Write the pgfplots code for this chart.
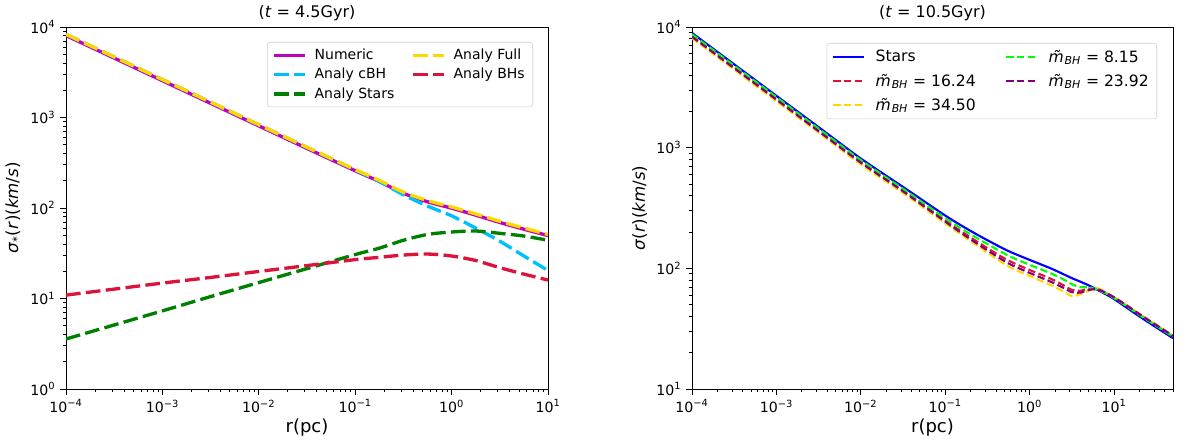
\documentclass[border=0pt]{standalone}
\usepackage{fontspec}
\setmainfont{DejaVu Sans}
\usepackage{pgfplots}
\pgfplotsset{compat=1.18}
\definecolor{mplm}{HTML}{BF00BF}
\definecolor{dsb}{HTML}{00BFFF}
\definecolor{mplgreen}{HTML}{008000}
\definecolor{gold}{HTML}{FFD700}
\definecolor{crimson}{HTML}{DC143C}
\definecolor{lime}{HTML}{00FF00}
\definecolor{mplpurple}{HTML}{800080}
\definecolor{mplblue}{HTML}{0000FF}
\tikzset{
  lft/.style={line width=2.5pt, dash pattern=on 11pt off 4pt},
  rgt/.style={line width=1.6pt, dash pattern=on 5.5pt off 2.6pt},
}
\pgfplotsset{
  log number format basis/.code 2 args={10\textsuperscript{\pgfmathparse{int(#2)}\ifnum\pgfmathresult<0 −\pgfmathparse{int(-(#2))}\pgfmathresult\else\pgfmathresult\fi}},
  legend image code/.code={\draw[#1] (0pt,0pt) -- (23pt,0pt);},
  every axis/.append style={
    scale only axis,
    axis line style={line width=0.6pt},
    tick align=outside, tick pos=left,
    major tick length=4.5pt, minor tick length=2.5pt,
    every tick/.style={black, line width=0.6pt},
    ticklabel style={font=\fontsize{10.6}{12}\selectfont},
    xlabel style={font=\fontsize{13.5}{15}\selectfont, yshift=2pt},
    ylabel style={font=\fontsize{12.5}{14}\selectfont},
    title style={font=\fontsize{12}{14}\selectfont, yshift=-5pt},
    legend cell align=left,
  },
}
\begin{document}
\begin{tikzpicture}
\path[use as bounding box] (-49.5pt,-38.25pt) rectangle (840.75pt,291.75pt);
% ---------------- left panel ----------------
\begin{axis}[xmode=log, ymode=log,
  at={(0pt,0pt)}, anchor=south west,
  width=361.5pt, height=271.5pt,
  xmin=1e-4, xmax=10, ymin=1, ymax=1e4,
  title={(\textit{t} = 4.5Gyr)},
  xlabel={r(pc)},
  ylabel={\textit{σ}\textsubscript{*}(\textit{r})(\textit{km}/\textit{s})},
  legend columns=2,
  legend style={at={(1,1)}, anchor=north east, xshift=-11.25pt, yshift=-11.25pt,
    font=\fontsize{10.5}{12}\selectfont, draw=black!20, rounded corners=2pt,
    row sep=1pt, inner xsep=4pt, inner ysep=3pt,
    /tikz/every odd column/.append style={column sep=4pt},
    /tikz/every even column/.append style={column sep=11pt}},
]
\addplot[mplm, line width=2.5pt, smooth, forget plot] coordinates {
(1e-4,8050)(3.162e-4,4537)(1e-3,2551)(3.162e-3,1435)(1e-2,807.5)(3.162e-2,455)
(0.1,258)(0.1778,196)(0.3162,145.3)(0.5623,117.2)(1,99.6)(1.778,83.4)(3.162,69.2)(5.623,58.3)(10,49.6)};
\addplot[dsb, lft, smooth, forget plot] coordinates {
(1e-4,8300)(3.162e-4,4677)(1e-3,2630)(3.162e-3,1479)(1e-2,832)(3.162e-2,468)
(0.1,263)(0.1778,197)(0.3162,140)(0.5623,105)(1,82)(1.778,60)(3.162,43)(5.623,29.5)(10,20.4)};
\addplot[mplgreen, lft, smooth, forget plot] coordinates {
(1e-4,3.57)(3.162e-4,5.1)(1e-3,7.3)(3.162e-3,10.5)(1e-2,15.0)(3.162e-2,21.4)
(0.1,30.6)(0.1778,36)(0.3162,44)(0.5623,51)(1,54.3)(1.778,55.7)(3.162,52.5)(5.623,49)(10,44)};
\addplot[gold, lft, smooth, forget plot] coordinates {
(1e-4,8300)(3.162e-4,4677)(1e-3,2630)(3.162e-3,1479)(1e-2,832.5)(3.162e-2,469.1)
(0.1,266.1)(0.1778,202.3)(0.3162,149.8)(0.5623,120.8)(1,102.7)(1.778,86.0)(3.162,71.3)(5.623,60.1)(10,51.1)};
\addplot[crimson, lft, smooth, forget plot] coordinates {
(1e-4,10.9)(3.162e-4,12.7)(1e-3,14.8)(3.162e-3,17.1)(1e-2,19.9)(3.162e-2,23.1)
(0.1,26.9)(0.1778,28.5)(0.3162,30.2)(0.5623,31)(1,29.5)(1.778,26.3)(3.162,21.9)(5.623,18.6)(10,16)};
\addlegendimage{mplm, line width=2.5pt}\addlegendentry{Numeric}
\addlegendimage{gold, lft}\addlegendentry{Analy Full}
\addlegendimage{dsb, lft}\addlegendentry{Analy cBH}
\addlegendimage{crimson, lft}\addlegendentry{Analy BHs}
\addlegendimage{mplgreen, lft}\addlegendentry{Analy Stars}
\end{axis}
% ---------------- right panel ----------------
\begin{axis}[xmode=log, ymode=log,
  at={(469.5pt,0pt)}, anchor=south west,
  width=360.75pt, height=271.5pt,
  xmin=1e-4, xmax=50, ymin=10, ymax=1e4,
  title={(\textit{t} = 10.5Gyr)},
  xlabel={r(pc)},
  ylabel={\textit{σ}(\textit{r})(\textit{km}/\textit{s})},
  legend columns=2,
  legend style={at={(1,1)}, anchor=north east, xshift=-12pt, yshift=-12pt,
    font=\fontsize{11.7}{13}\selectfont, draw=black!20, rounded corners=2pt,
    row sep=3.5pt, inner xsep=4pt, inner ysep=3pt,
    /tikz/every odd column/.append style={column sep=6pt},
    /tikz/every even column/.append style={column sep=20pt}},
]
\addplot[mplblue, line width=1.6pt, smooth, forget plot] coordinates {
(1e-4,8920)(3.162e-4,4900)(1e-3,2690)(3.162e-3,1480)(1e-2,813)(3.162e-2,473)
(0.1,274)(0.1778,214)(0.3162,171)(0.5623,139)(1,117.5)(1.778,100)(2.512,89.5)(3.162,83)(3.981,77.6)(5.012,72.3)(6.310,66.5)(7.943,61.1)(10,55.7)(14.13,47.2)(19.95,40)(31.62,32.4)(50,26.4)};
\addplot[crimson, rgt, smooth, forget plot] coordinates {
(1e-4,8474)(3.162e-4,4655)(1e-3,2542)(3.162e-3,1399)(1e-2,768)(3.162e-2,445)
(0.1,249)(0.1778,190)(0.3162,147)(0.5623,116)(1,96.9)(1.778,82)(2.512,72.5)(3.162,66.4)(3.981,65.2)(5.012,68)(6.310,66.5)(7.943,62.6)(10,57.4)(14.13,49.1)(19.95,41.6)(31.62,33.7)(50,27.5)};
\addplot[gold, rgt, smooth, forget plot] coordinates {
(1e-4,8073)(3.162e-4,4435)(1e-3,2421)(3.162e-3,1332)(1e-2,728)(3.162e-2,421)
(0.1,236)(0.1778,178)(0.3162,135)(0.5623,103.6)(1,86.4)(1.778,72.7)(2.512,64.4)(3.162,59)(3.981,61)(5.012,65.1)(6.310,68.5)(7.943,63.5)(10,57.9)(14.13,49.6)(19.95,42)(31.62,34)(50,27.7)};
\addplot[lime, rgt, smooth, forget plot] coordinates {
(1e-4,8697)(3.162e-4,4778)(1e-3,2623)(3.162e-3,1436)(1e-2,789)(3.162e-2,456)
(0.1,260)(0.1778,201)(0.3162,159)(0.5623,127.2)(1,106.9)(1.778,91)(2.512,81)(3.162,73.9)(3.981,69.8)(5.012,69.8)(6.310,66.5)(7.943,62.3)(10,56.8)(14.13,48.6)(19.95,41.2)(31.62,33.4)(50,27.2)};
\addplot[mplpurple, rgt, smooth, forget plot] coordinates {
(1e-4,8296)(3.162e-4,4557)(1e-3,2502)(3.162e-3,1369)(1e-2,752)(3.162e-2,435)
(0.1,244)(0.1778,184)(0.3162,141)(0.5623,110)(1,91.7)(1.778,77.5)(2.512,68.9)(3.162,63.5)(3.981,62.9)(5.012,66.2)(6.310,67.2)(7.943,62.9)(10,57.6)(14.13,49.3)(19.95,41.8)(31.62,33.9)(50,27.6)};
\addlegendimage{mplblue, line width=1.6pt}\addlegendentry{Stars}
\addlegendimage{lime, rgt}\addlegendentry{\textit{m̃}\textsubscript{\textit{BH}} = 8.15}
\addlegendimage{crimson, rgt}\addlegendentry{\textit{m̃}\textsubscript{\textit{BH}} = 16.24}
\addlegendimage{mplpurple, rgt}\addlegendentry{\textit{m̃}\textsubscript{\textit{BH}} = 23.92}
\addlegendimage{gold, rgt}\addlegendentry{\textit{m̃}\textsubscript{\textit{BH}} = 34.50}
\end{axis}
\end{tikzpicture}
\end{document}
